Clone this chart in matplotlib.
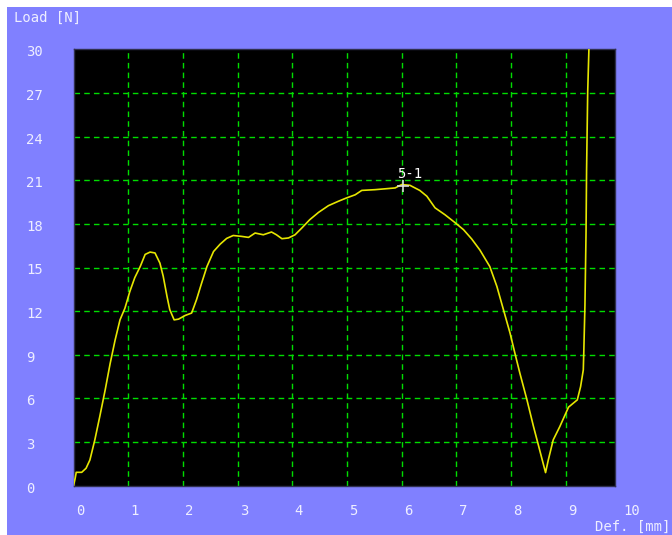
import matplotlib
matplotlib.use("Agg")
import matplotlib.pyplot as plt
from matplotlib.patches import Rectangle
from matplotlib.transforms import blended_transform_factory, offset_copy

# ---- data ----
deflection = [0.00, 0.03, 0.05, 0.15, 0.23, 0.30, 0.39, 0.48, 0.58, 0.67, 0.76, 0.85, 0.94,
              1.03, 1.12, 1.22, 1.31, 1.40, 1.49, 1.58, 1.64, 1.71, 1.76, 1.84, 1.92,
              2.04, 2.16, 2.25, 2.34, 2.44, 2.56, 2.68, 2.80, 2.92, 3.07, 3.20, 3.32,
              3.47, 3.62, 3.71, 3.81, 3.93, 4.05, 4.17, 4.32, 4.48, 4.66, 4.84, 4.99,
              5.15, 5.27, 5.51, 5.73, 5.88, 6.00, 6.15, 6.33, 6.46, 6.61, 6.79, 6.97,
              7.13, 7.28, 7.43, 7.61, 7.74, 7.86, 7.98, 8.07, 8.16, 8.29, 8.41, 8.53,
              8.63, 8.68, 8.77, 8.89, 9.00, 9.05, 9.21, 9.27, 9.32, 9.33, 9.35, 9.37,
              9.38, 9.40, 9.43]
load = [0.0, 0.5, 0.92, 0.92, 1.2, 1.77, 3.15, 4.75, 6.6, 8.4, 10.0, 11.4, 12.2,
        13.35, 14.3, 15.07, 15.9, 16.06, 16.0, 15.3, 14.4, 13.0, 12.1, 11.4, 11.45,
        11.7, 11.87, 12.8, 13.9, 15.07, 16.1, 16.6, 17.0, 17.2, 17.14, 17.07, 17.37,
        17.25, 17.44, 17.25, 16.98, 17.03, 17.25, 17.7, 18.29, 18.79, 19.25, 19.55, 19.78,
        20.0, 20.3, 20.35, 20.42, 20.47, 20.7, 20.65, 20.3, 19.9, 19.1, 18.63, 18.1,
        17.6, 16.96, 16.2, 15.07, 13.7, 12.1, 10.5, 9.1, 7.74, 5.9, 4.06, 2.34,
        0.9, 1.77, 3.15, 4.06, 4.98, 5.4, 5.9, 6.8, 7.96, 9.34, 12.4, 17.4,
        21.7, 27.0, 31.0]
x_ticks = [0, 1, 2, 3, 4, 5, 6, 7, 8, 9, 10]
y_ticks = [0, 3, 6, 9, 12, 15, 18, 21, 24, 27, 30]
marker_x, marker_y = 6.02, 20.6
marker_label = "5-1"

# ---- style ----
W, H = 672, 535
BG = "#8080FF"
TXT = "#EEEEFF"
GRID = "#00DD00"
CURVE = "#E6E600"
FONT = "DejaVu Sans Mono"

fig = plt.figure(figsize=(W / 100, H / 100), dpi=100)
fig.patch.set_facecolor("white")
fig.patches.append(Rectangle((7 / W, 0), 1 - 7 / W, (H - 7) / H,
                             transform=fig.transFigure, facecolor=BG,
                             edgecolor="none", zorder=-10))

ax = fig.add_axes([73.5 / W, (H - 485.7) / H, (615.3 - 73.5) / W, (485.7 - 49.3) / H])
ax.set_facecolor("black")
ax.set_xlim(0, 9.905)
ax.set_ylim(0, 30)
for s in ax.spines.values():
    s.set_color("#303050")
    s.set_linewidth(1)

ax.set_xticks(x_ticks[1:-1])
ax.set_yticks(y_ticks[1:-1])
ax.tick_params(length=0, labelbottom=False, labelleft=False)
ax.grid(True, color=GRID, linestyle=(0, (4, 3)), linewidth=1)
ax.set_axisbelow(True)

ax.plot(deflection, load, color=CURVE, lw=1.2, clip_on=True, zorder=3)

# marker and label
ax.plot([marker_x], [marker_y], marker="+", markersize=9, mew=1.2,
        color="#D8D8D8", zorder=4)
ax.text(marker_x, marker_y, marker_label, color="white", fontsize=10, family=FONT,
        ha="left", va="bottom",
        transform=offset_copy(ax.transData, fig=fig, x=-6, y=5, units="dots"), zorder=5)

# tick labels
tx = offset_copy(blended_transform_factory(ax.transData, fig.transFigure),
                 fig=fig, x=2.5, y=0, units="dots")
for v in x_ticks:
    fig.text(v, (H - 511) / H, str(v), transform=tx, ha="left", va="center",
             color=TXT, fontsize=10, family=FONT)
ty = offset_copy(blended_transform_factory(fig.transFigure, ax.transData),
                 fig=fig, x=0, y=-3, units="dots")
for v in y_ticks:
    fig.text(26 / W, v, str(v), transform=ty, ha="left", va="center",
             color=TXT, fontsize=10, family=FONT)

fig.text(14 / W, (H - 18) / H, "Load [N]", ha="left", va="center",
         color=TXT, fontsize=10, family=FONT)
fig.text(670 / W, (H - 527) / H, "Def. [mm]", ha="right", va="center",
         color=TXT, fontsize=10, family=FONT)

fig.savefig("out.png", dpi=100, facecolor=fig.get_facecolor())
